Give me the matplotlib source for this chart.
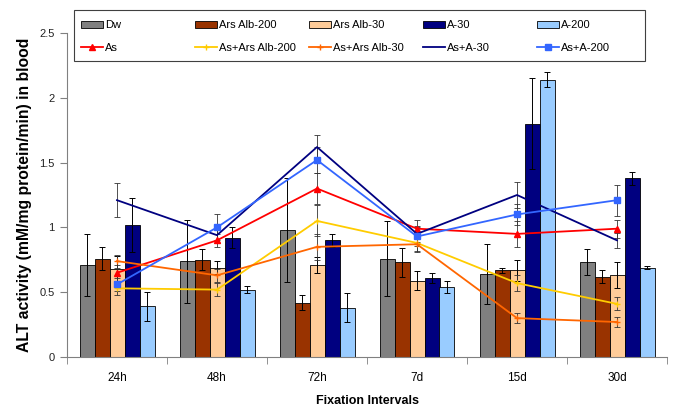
import numpy as np
import matplotlib
matplotlib.use("Agg")
import matplotlib.pyplot as plt
from matplotlib.patches import Rectangle

plt.rcParams['font.family'] = ['Liberation Sans', 'DejaVu Sans']

intervals = ["24h", "48h", "72h", "7d", "15d", "30d"]

# bar series (mean, error)
bar_names = ["Dw", "Ars Alb-200", "Ars Alb-30", "A-30", "A-200"]
dw = [0.71, 0.74, 0.98, 0.76, 0.64, 0.73]
dw_err = [0.24, 0.32, 0.40, 0.29, 0.23, 0.10]
ars_alb_200 = [0.76, 0.75, 0.42, 0.73, 0.67, 0.62]
ars_alb_200_err = [0.09, 0.08, 0.06, 0.11, 0.02, 0.05]
ars_alb_30 = [0.68, 0.69, 0.71, 0.59, 0.67, 0.63]
ars_alb_30_err = [0.10, 0.05, 0.06, 0.07, 0.08, 0.10]
a_30 = [1.02, 0.92, 0.90, 0.61, 1.80, 1.38]
a_30_err = [0.21, 0.08, 0.05, 0.04, 0.35, 0.05]
a_200 = [0.39, 0.52, 0.38, 0.54, 2.14, 0.69]
a_200_err = [0.11, 0.03, 0.11, 0.05, 0.06, 0.01]

# line series (mean, error)
line_names = ["As", "As+Ars Alb-200", "As+Ars Alb-30", "As+A-30", "As+A-200"]
as_only = [0.65, 0.90, 1.30, 0.99, 0.95, 0.99]
as_only_err = [0.06, 0.05, 0.12, 0.07, 0.10, 0.07]
as_ars_alb_200 = [0.53, 0.52, 1.05, 0.88, 0.57, 0.41]
as_ars_alb_200_err = [0.05, 0.05, 0.12, 0.06, 0.06, 0.05]
as_ars_alb_30 = [0.74, 0.63, 0.85, 0.87, 0.30, 0.27]
as_ars_alb_30_err = [0.05, 0.05, 0.10, 0.06, 0.04, 0.04]
as_a_30 = [1.21, 0.94, 1.62, 0.95, 1.25, 0.90]
as_a_30_err = [0.13, 0.06, 0.09, 0.06, 0.10, 0.06]
as_a_200 = [0.56, 1.00, 1.52, 0.93, 1.10, 1.21]
as_a_200_err = [0.05, 0.10, 0.10, 0.07, 0.08, 0.12]

bars = [dw, ars_alb_200, ars_alb_30, a_30, a_200]
bar_errs = [dw_err, ars_alb_200_err, ars_alb_30_err, a_30_err, a_200_err]
bar_colors = ["#808080", "#993300", "#FFCC99", "#000080", "#99CCFF"]

lines = [as_only, as_ars_alb_200, as_ars_alb_30, as_a_30, as_a_200]
line_errs = [as_only_err, as_ars_alb_200_err, as_ars_alb_30_err, as_a_30_err, as_a_200_err]
line_colors = ["#FF0000", "#FFCC00", "#FF6600", "#000080", "#3366FF"]
line_markers = ["^", "+", "+", "None", "s"]

W, H = 685, 420
fig = plt.figure(figsize=(W / 100, H / 100), dpi=100)
ax = fig.add_axes([67 / W, 1 - 357 / H, 600 / W, 324 / H])

x = np.arange(len(intervals))
w = 0.15

bar_handles = []
for i, (vals, errs, c, name) in enumerate(zip(bars, bar_errs, bar_colors, bar_names)):
    pos = x + (i - 2) * w
    h = ax.bar(pos, vals, w, color=c, edgecolor="black", linewidth=0.6,
               label=name, zorder=2)
    ax.errorbar(pos, vals, yerr=errs, fmt="none", ecolor="black",
                elinewidth=0.7, capsize=2.5, capthick=0.7, zorder=3)
    bar_handles.append(h)

line_handles = []
for vals, errs, c, m, name in zip(lines, line_errs, line_colors, line_markers, line_names):
    ax.errorbar(x, vals, yerr=errs, fmt="none", ecolor="#333333",
                elinewidth=0.6, capsize=2.5, capthick=0.6, zorder=4)
    h, = ax.plot(x, vals, color=c, marker=m, markersize=5, linewidth=1.3,
                 label=name, zorder=5)
    line_handles.append(h)

ax.set_xlim(-0.5, len(intervals) - 0.5)
ax.set_ylim(0, 2.5)
ax.set_yticks(np.arange(0, 2.51, 0.5))
ax.set_yticklabels(["0", "0.5", "1", "1.5", "2", "2.5"])
ax.set_xticks(x)
ax.set_xticklabels(intervals)
ax.set_xticks(np.arange(-0.5, len(intervals), 1.0), minor=True)
ax.tick_params(axis="x", which="major", length=0, pad=11, labelsize=8.5)
ax.tick_params(axis="x", which="minor", length=5, color="#808080")
ax.tick_params(axis="y", length=5, color="#808080", labelsize=8, pad=4,
               labelcolor="#222222")

for s in ["top", "right"]:
    ax.spines[s].set_visible(False)
for s in ["left", "bottom"]:
    ax.spines[s].set_color("#808080")

ax.set_xlabel("Fixation Intervals", fontsize=9, fontweight="bold", labelpad=8)
ax.set_ylabel("ALT activity (mM/mg protein/min) in blood", fontsize=11.3,
              fontweight="bold", labelpad=5)

# legend box with five evenly spaced columns (bar on top, line below)
fig.add_artist(Rectangle((74 / W, 1 - 61 / H), 571 / W, 51 / H,
                         transform=fig.transFigure, facecolor="white",
                         edgecolor="#404040", linewidth=0.8, zorder=4))
for i in range(5):
    leg = fig.legend([bar_handles[i], line_handles[i]],
                     [bar_names[i], line_names[i]],
                     loc="center left",
                     bbox_to_anchor=((81 + 114 * i) / W, 1 - 36.5 / H),
                     frameon=False, fontsize=8, borderpad=0,
                     borderaxespad=0, handlelength=2.0, handleheight=0.65,
                     handletextpad=0.2, labelspacing=1.15)
    leg.set_zorder(6)

fig.savefig("out.png", dpi=100)
